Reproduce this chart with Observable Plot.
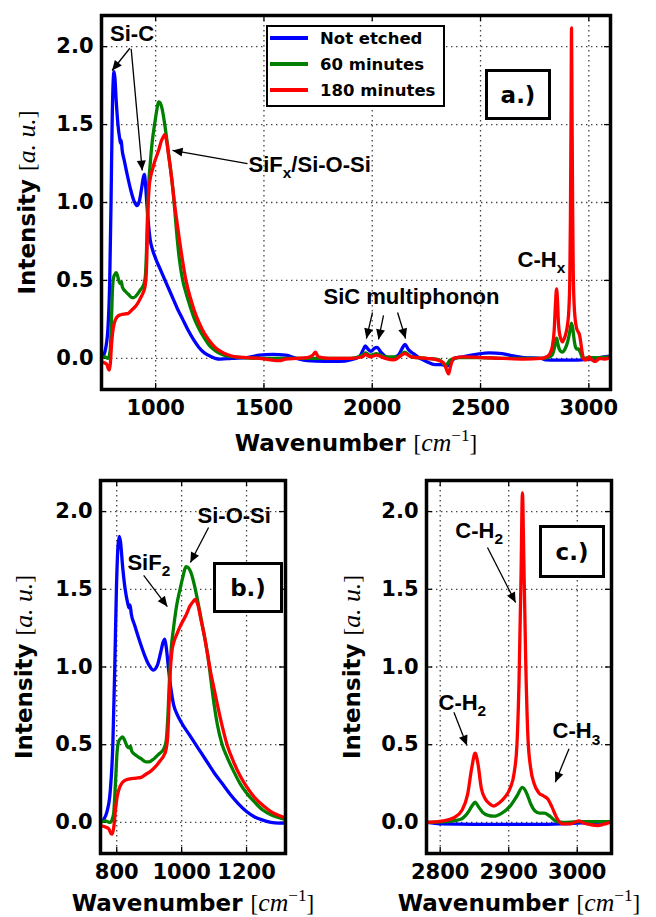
<!DOCTYPE html>
<html>
<head>
<meta charset="utf-8">
<script src="https://cdn.jsdelivr.net/npm/d3@7"></script>
<script src="https://cdn.jsdelivr.net/npm/@observablehq/plot@0.6"></script>
<style>
  body { margin: 0; background: #fff; }
  #fig { position: relative; width: 656px; height: 917px; overflow: hidden; background: #fff; }
  .panel { position: absolute; }
  .tag { position: absolute; box-sizing: border-box; border: 3.5px solid #000; background: #fff;
         font: bold 23px "DejaVu Sans"; display: flex; align-items: center; justify-content: center; }
  .legend { position: absolute; box-sizing: border-box; border: 2px solid #000; background: #fff; }
  .legend .row { position: absolute; left: 0; height: 22px; display: flex; align-items: center; }
  .legend .sw { position: absolute; left: 2px; width: 38px; height: 0; border-top: 4px solid; }
  .legend .lb { position: absolute; left: 52px; white-space: nowrap; font: bold 16.5px "DejaVu Sans"; }
</style>
</head>
<body>
<div id="fig"></div>
<script>
// ---------------- data ----------------
const seriesNames = ["Not etched", "60 minutes", "180 minutes"];
const seriesColors = ["#0000ff", "#008000", "#ff0000"];

const blueWn = [750,760,770,780,788,794,799,804,808,812,818,826,834,838,841,845,855,870,885,900,913,925,935,943,948,953,960,967,975,985,1000,1025,1050,1075,1100,1125,1150,1175,1200,1225,1250,1275,1300,1350,1420,1480,1540,1600,1650,1700,1780,1850,1900,1940,1960,1968,1980,1994,2010,2022,2040,2080,2120,2145,2152,2165,2190,2220,2250,2290,2320,2345,2360,2380,2420,2480,2540,2600,2650,2700,2780,2800,2850,2900,2950,3000,3050,3100];
const blueI  = [0.00,0.02,0.07,0.20,0.50,1.00,1.50,1.78,1.84,1.80,1.65,1.50,1.41,1.38,1.40,1.34,1.27,1.17,1.08,1.01,0.98,1.01,1.09,1.16,1.18,1.12,0.98,0.86,0.76,0.70,0.64,0.56,0.48,0.40,0.32,0.25,0.18,0.12,0.07,0.035,0.015,0.00,-0.005,0.00,0.005,0.02,0.025,0.02,0.0,-0.015,-0.02,-0.02,-0.01,0.01,0.06,0.08,0.06,0.045,0.065,0.07,0.04,0.0,0.02,0.08,0.09,0.06,0.03,0.0,-0.02,-0.04,-0.04,-0.05,-0.03,0.0,0.01,0.025,0.035,0.03,0.015,0.005,0.0,-0.01,-0.012,-0.012,-0.012,-0.005,0.005,0.015];

const greenWn = [750,765,780,790,796,801,806,812,818,824,832,838,842,846,860,875,890,900,915,930,944,952,958,963,968,975,985,995,1005,1013,1020,1030,1040,1050,1060,1070,1080,1090,1100,1110,1125,1140,1160,1180,1200,1225,1250,1275,1300,1330,1400,1500,1600,1700,1800,1900,1955,1968,1990,2020,2060,2120,2150,2180,2250,2310,2340,2360,2400,2500,2600,2700,2780,2810,2830,2840,2847,2851,2856,2862,2870,2878,2890,2902,2912,2920,2926,2932,2938,2945,2952,2960,2970,2980,3000,3050,3100];
const greenI  = [0.00,0.01,0.00,0.05,0.25,0.45,0.52,0.54,0.55,0.53,0.49,0.48,0.49,0.46,0.43,0.41,0.39,0.39,0.41,0.44,0.47,0.52,0.70,0.95,1.12,1.25,1.40,1.50,1.59,1.645,1.64,1.60,1.52,1.42,1.31,1.20,1.08,0.92,0.76,0.63,0.50,0.42,0.33,0.25,0.19,0.13,0.08,0.05,0.03,0.015,0.005,0.0,0.0,0.0,0.0,0.0,0.02,0.035,0.02,0.03,0.01,0.01,0.04,0.01,0.0,-0.01,-0.045,-0.01,0.005,0.005,0.0,0.0,0.0,0.005,0.02,0.06,0.11,0.13,0.10,0.065,0.045,0.04,0.06,0.105,0.17,0.225,0.19,0.12,0.075,0.06,0.06,0.04,0.005,0.0,0.005,0.005,0.01];

const redWn = [750,765,775,782,786,791,796,801,808,815,825,840,860,875,890,905,920,935,945,952,957,961,965,970,976,985,995,1005,1015,1025,1035,1042,1050,1060,1070,1080,1090,1100,1110,1125,1140,1160,1180,1200,1225,1250,1275,1300,1330,1370,1420,1480,1530,1570,1600,1650,1700,1725,1738,1750,1800,1900,1955,1968,1990,2020,2060,2100,2150,2180,2250,2300,2330,2345,2352,2360,2375,2420,2500,2600,2700,2780,2805,2820,2832,2840,2846,2851,2855,2860,2866,2872,2878,2886,2894,2902,2908,2912,2915,2918,2920,2922,2925,2928,2932,2937,2944,2951,2957,2963,2970,2978,2990,3002,3010,3020,3030,3040,3050,3070,3100];
const redI  = [-0.02,-0.03,-0.04,-0.07,-0.075,-0.03,0.08,0.16,0.22,0.25,0.27,0.28,0.285,0.29,0.31,0.33,0.36,0.40,0.43,0.47,0.55,0.75,0.97,1.10,1.16,1.21,1.26,1.30,1.34,1.39,1.42,1.435,1.40,1.30,1.20,1.08,0.96,0.86,0.76,0.62,0.50,0.39,0.30,0.23,0.16,0.11,0.07,0.045,0.025,0.01,0.005,0.0,-0.01,-0.015,-0.005,0.0,0.005,0.02,0.04,0.01,0.0,0.0,0.01,0.025,0.01,0.02,0.0,-0.01,0.03,0.01,0.0,-0.01,-0.03,-0.08,-0.10,-0.06,0.0,0.01,0.005,0.0,-0.005,0.0,0.01,0.03,0.08,0.18,0.35,0.445,0.38,0.22,0.15,0.12,0.105,0.125,0.16,0.22,0.32,0.50,0.90,1.60,2.12,1.70,1.00,0.55,0.35,0.25,0.19,0.17,0.15,0.10,0.03,-0.01,-0.01,0.01,-0.005,-0.015,-0.02,-0.01,0.0,-0.005,0.005];

const yTicks = [0, 0.5, 1, 1.5, 2];
const xTicksA = [1000, 1500, 2000, 2500, 3000];
const xTicksB = [800, 1000, 1200];
const xTicksC = [2800, 2900, 3000];

const yLabel = "Intensity [a. u.]";
const xLabel = "Wavenumber [cm−1]";

// annotations (text anchor points and arrows, in data units)
const annotA = [
  {label: "Si-C", x: 891, y: 2.082, anchor: "middle"},
  {label: "SiFx/Si-O-Si", x: 1429, y: 1.24, anchor: "start"},
  {label: "SiC multiphonon", x: 1775, y: 0.397, anchor: "start"},
  {label: "C-Hx", x: 2671, y: 0.634, anchor: "start"}
];
const arrowsA = [
  {x1: 881, y1: 1.990, x2: 799, y2: 1.847},
  {x1: 887, y1: 1.986, x2: 938, y2: 1.205},
  {x1: 1424, y1: 1.250, x2: 1078, y2: 1.334},
  {x1: 2001, y1: 0.294, x2: 1973, y2: 0.127},
  {x1: 2052, y1: 0.275, x2: 2029, y2: 0.121},
  {x1: 2117, y1: 0.294, x2: 2154, y2: 0.127}
];
const annotB = [
  {label: "SiF2", x: 833, y: 1.672, anchor: "start"},
  {label: "Si-O-Si", x: 1049, y: 1.975, anchor: "start"}
];
const arrowsB = [
  {x1: 883, y1: 1.589, x2: 956, y2: 1.389},
  {x1: 1083, y1: 1.898, x2: 1027, y2: 1.672}
];
const annotC = [
  {label: "C-H2", x: 2822, y: 1.874, anchor: "start"},
  {label: "C-H2", x: 2797.5, y: 0.768, anchor: "start"},
  {label: "C-H3", x: 2964, y: 0.586, anchor: "start"}
];
const arrowsC = [
  {x1: 2869, y1: 1.769, x2: 2910, y2: 1.415},
  {x1: 2820, y1: 0.709, x2: 2839, y2: 0.495},
  {x1: 2988, y1: 0.474, x2: 2968, y2: 0.259}
];

// ---------------- build table ----------------
const seriesWn = [blueWn, greenWn, redWn];
const seriesI = [blueI, greenI, redI];
const rows = seriesNames.flatMap((name, k) =>
  seriesWn[k].map((w, i) => ({series: name, wn: w, v: seriesI[k][i]})));

// rich-text segments (same characters as the plain strings)
const RICH = {
  "SiFx/Si-O-Si": [["SiF"], ["x", "sub"], ["/Si-O-Si"]],
  "C-Hx": [["C-H"], ["x", "sub"]],
  "SiF2": [["SiF"], ["2", "sub"]],
  "C-H2": [["C-H"], ["2", "sub"]],
  "C-H3": [["C-H"], ["3", "sub"]],
  "Intensity [a. u.]": [["Intensity "], ["[", "math"], ["a. u.", "mathit"], ["]", "math"]],
  "Wavenumber [cm−1]": [["Wavenumber "], ["[", "math"], ["cm", "mathit"], ["−1", "sup"], ["]", "math"]]
};
const NS = "http://www.w3.org/2000/svg";
function richify(root) {
  root.querySelectorAll("text").forEach(t => {
    const segs = RICH[t.textContent];
    if (!segs) return;
    const F = parseFloat(getComputedStyle(t).fontSize);
    t.textContent = "";
    let off = 0;
    for (const [str, kind] of segs) {
      const ts = document.createElementNS(NS, "tspan");
      let target = 0, size = F;
      if (kind === "sub") { target = 0.28 * F; size = 0.7 * F; }
      if (kind === "sup") { target = -0.45 * F; size = 0.75 * F; }
      if (kind === "math" || kind === "mathit" || kind === "sup") {
        ts.setAttribute("font-family", "Liberation Serif");
        ts.setAttribute("font-weight", "normal");
        if (kind === "math") size = 1.0 * F;
        if (kind === "mathit") size = 1.12 * F;
      }
      if (kind === "mathit") ts.setAttribute("font-style", "italic");
      ts.setAttribute("font-size", size);
      if (target !== off) ts.setAttribute("dy", target - off);
      off = target;
      ts.textContent = str;
      t.appendChild(ts);
    }
  });
}
function addArrowheads(svg, id) {
  const defs = document.createElementNS(NS, "defs");
  defs.innerHTML = `<marker id="${id}" viewBox="0 0 10 10" refX="10" refY="5" markerWidth="12" markerHeight="10" markerUnits="userSpaceOnUse" orient="auto"><path d="M0,0.5L10,5L0,9.5z" fill="black"/></marker>`;
  svg.insertBefore(defs, svg.firstChild);
  svg.querySelectorAll('g[aria-label="link"] path').forEach(p => p.setAttribute("marker-end", `url(#${id})`));
}

function panel(o) {
  const fh = o.height - o.mt - o.mb, fw = o.width - o.ml - o.mr, T = 6;
  const tickStyle = {stroke: "black", strokeWidth: 1.3};
  const gridStyle = {stroke: "#444", strokeWidth: 1.3, strokeDasharray: "1.4,3.6"};
  const svg = Plot.plot({
    width: o.width, height: o.height,
    marginLeft: o.ml, marginRight: o.mr, marginTop: o.mt, marginBottom: o.mb,
    style: {background: "transparent", fontFamily: "DejaVu Sans", fontWeight: "bold", fontSize: "21px", overflow: "visible"},
    x: {domain: o.xDomain, ticks: o.xTicks, tickSize: 0, tickPadding: o.xPad, tickFormat: d => String(d), label: null},
    y: {domain: [-0.2, 2.2], ticks: yTicks, tickSize: 0, tickPadding: 8, tickFormat: d3.format(".1f"), label: null},
    marks: [
      Plot.ruleX(o.xTicks, gridStyle),
      Plot.ruleY(yTicks, gridStyle),
      Plot.ruleX(o.xTicks, {...tickStyle, insetTop: fh - T}),
      Plot.ruleX(o.xTicks, {...tickStyle, insetBottom: fh - T}),
      Plot.ruleY(yTicks, {...tickStyle, insetRight: fw - T}),
      Plot.ruleY(yTicks, {...tickStyle, insetLeft: fw - T}),
      ...seriesNames.map((name, k) => Plot.line(rows, {
        filter: d => d.series === name, x: "wn", y: "v",
        stroke: seriesColors[k], strokeWidth: 3.3, curve: "monotone-x", clip: true
      })),
      Plot.link(o.arrows, {x1: "x1", y1: "y1", x2: "x2", y2: "y2", stroke: "black", strokeWidth: 1.3}),
      Plot.text(o.annots.filter(d => d.anchor === "start"), {x: "x", y: "y", text: "label", textAnchor: "start",
        lineAnchor: "middle", fontFamily: "Liberation Sans", fontWeight: "bold", fontSize: 22}),
      Plot.text(o.annots.filter(d => d.anchor === "middle"), {x: "x", y: "y", text: "label", textAnchor: "middle",
        lineAnchor: "middle", fontFamily: "Liberation Sans", fontWeight: "bold", fontSize: 22}),
      Plot.text([yLabel], {text: d => d, frameAnchor: "left", dx: o.ylabelDx, rotate: -90,
        textAnchor: "middle", lineAnchor: "middle", fontSize: 23, fontWeight: "bold", fontFamily: "DejaVu Sans"}),
      Plot.text([xLabel], {text: d => d, frameAnchor: "bottom", dy: o.xlabelDy,
        textAnchor: "middle", lineAnchor: "middle", fontSize: 23, fontWeight: "bold", fontFamily: "DejaVu Sans"}),
      Plot.frame({stroke: "black", strokeWidth: 3.5})
    ]
  });
  svg.classList.add("panel");
  svg.style.left = o.left + "px";
  svg.style.top = o.top + "px";
  return svg;
}

const fig = document.getElementById("fig");
const panels = [
  {id: "arA", left: 0, top: 0, width: 656, height: 460, ml: 101, mr: 46, mt: 15, mb: 71,
   xDomain: [750, 3100], xTicks: xTicksA, xPad: 11, xlabelDy: 54, ylabelDx: -74, annots: annotA, arrows: arrowsA},
  {id: "arB", left: 0, top: 460, width: 328, height: 457, ml: 100, mr: 43, mt: 20, mb: 64,
   xDomain: [750, 1320], xTicks: xTicksB, xPad: 11, xlabelDy: 50, ylabelDx: -76, annots: annotB, arrows: arrowsB},
  {id: "arC", left: 328, top: 460, width: 328, height: 457, ml: 98, mr: 45, mt: 20, mb: 64,
   xDomain: [2780, 3050], xTicks: xTicksC, xPad: 11, xlabelDy: 50, ylabelDx: -74, annots: annotC, arrows: arrowsC}
];
for (const p of panels) {
  const svg = panel(p);
  fig.appendChild(svg);
  addArrowheads(svg, p.id);
  richify(svg);
}

// legend (panel a)
const legend = document.createElement("div");
legend.className = "legend";
Object.assign(legend.style, {left: "266px", top: "25px", width: "179px", height: "82px"});
const rowCenters = [11, 37, 63];
seriesNames.forEach((name, k) => {
  const row = document.createElement("div");
  row.className = "row";
  row.style.top = (rowCenters[k] - 11) + "px";
  row.style.width = "175px";
  const sw = document.createElement("div");
  sw.className = "sw";
  sw.style.borderTopColor = seriesColors[k];
  sw.style.top = "9px";
  const lb = document.createElement("div");
  lb.className = "lb";
  lb.textContent = name;
  row.appendChild(sw);
  row.appendChild(lb);
  legend.appendChild(row);
});
fig.appendChild(legend);

// panel tags
const tags = [
  {text: "a.)", left: 485, top: 69, width: 66, height: 51},
  {text: "b.)", left: 213, top: 562, width: 70, height: 51},
  {text: "c.)", left: 539, top: 525, width: 66, height: 53}
];
for (const t of tags) {
  const d = document.createElement("div");
  d.className = "tag";
  d.textContent = t.text;
  Object.assign(d.style, {left: t.left + "px", top: t.top + "px", width: t.width + "px", height: t.height + "px"});
  fig.appendChild(d);
}
</script>
</body>
</html>
